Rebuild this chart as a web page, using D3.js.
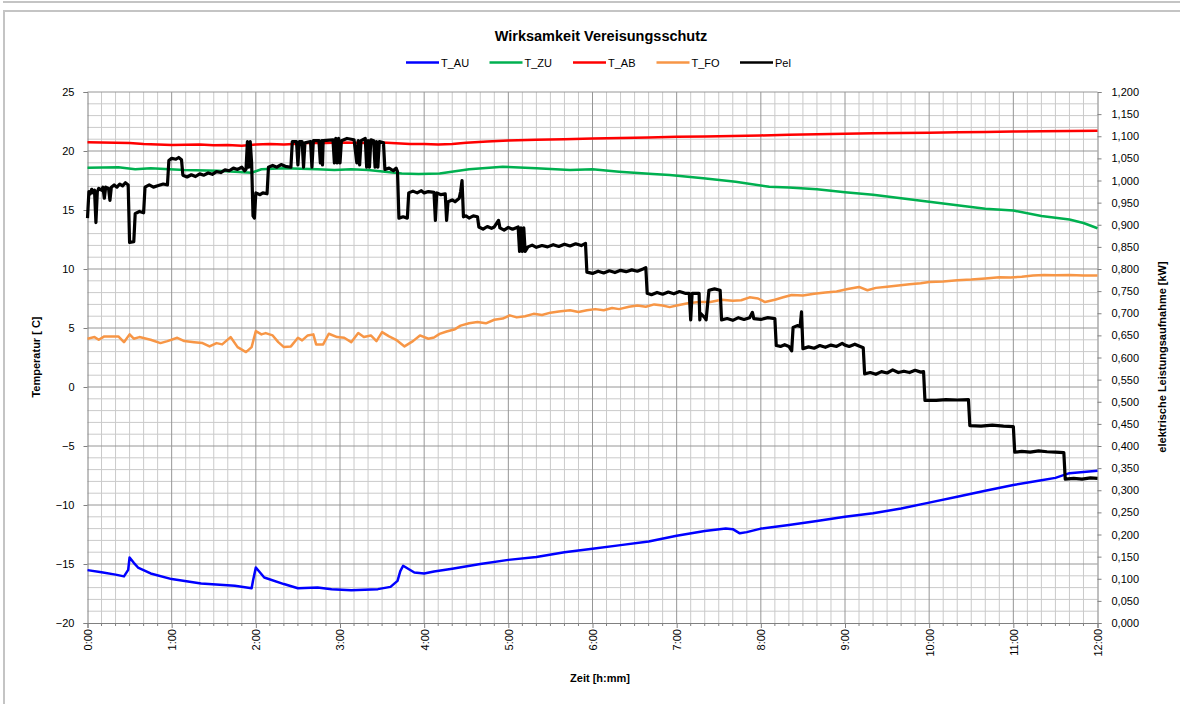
<!DOCTYPE html>
<html>
<head>
<meta charset="utf-8">
<script src="https://cdn.jsdelivr.net/npm/d3@7"></script>
<style>
  body { margin: 0; background: #fff; }
  text { font-family: Arial, "Liberation Sans", sans-serif; fill: #000; }
</style>
</head>
<body>
<svg id="chart" width="1180" height="704"></svg>
<script>
// time in minutes since 0:00
const auTime = [0,10,20,26,29,30,33,36,45,60,81,105,117,118,120,126,140,150,164,174,188,207,216,221,223,225,233,240,247,260,280,300,320,340,360,380,400,420,440,455,460,465,470,480,500,520,540,560,580,600,620,640,660,680,690,700,710,720];
const auVal = [-15.52,-15.7,-15.9,-16.05,-15.5,-14.45,-14.9,-15.3,-15.8,-16.28,-16.65,-16.85,-17.05,-16.4,-15.3,-16.14,-16.7,-17.05,-17.0,-17.13,-17.22,-17.13,-16.94,-16.43,-15.6,-15.15,-15.72,-15.8,-15.63,-15.4,-15.0,-14.65,-14.4,-14.0,-13.7,-13.4,-13.1,-12.6,-12.2,-12.0,-12.05,-12.4,-12.3,-12.0,-11.7,-11.35,-11.0,-10.7,-10.3,-9.8,-9.3,-8.8,-8.3,-7.9,-7.7,-7.3,-7.2,-7.1];

const zuTime = [0,22,34,45,69,93,117,124,140,164,176,188,200,212,224,236,251,272,296,320,344,360,379,403,415,439,462,486,500,520,540,560,580,600,620,640,660,680,700,710,720];
const zuVal = [18.59,18.62,18.45,18.53,18.39,18.33,18.16,18.45,18.53,18.45,18.39,18.45,18.39,18.25,18.1,18.05,18.1,18.45,18.67,18.53,18.39,18.45,18.25,18.05,17.97,17.69,17.4,16.97,16.9,16.75,16.5,16.3,16.0,15.7,15.4,15.1,14.95,14.5,14.2,13.9,13.45];

const abTime = [0,10,20,30,40,50,60,70,80,90,100,110,120,130,140,150,160,170,180,190,200,210,220,230,240,250,260,270,285,300,320,340,360,380,400,420,440,460,480,500,520,540,560,580,600,620,640,660,680,700,720];
const abVal = [20.75,20.72,20.7,20.68,20.6,20.55,20.5,20.52,20.55,20.48,20.5,20.45,20.55,20.6,20.55,20.62,20.7,20.68,20.72,20.7,20.68,20.72,20.65,20.6,20.6,20.55,20.6,20.7,20.8,20.9,20.95,21.0,21.05,21.1,21.15,21.2,21.22,21.28,21.32,21.38,21.42,21.46,21.5,21.52,21.55,21.58,21.6,21.65,21.68,21.7,21.72];

const foTime = [0,5,8,12,22,26,30,33,37,45,52,57,64,69,76,82,87,92,96,102,107,113,117,120,124,127,132,136,140,145,150,153,157,161,163,168,172,178,183,188,193,197,202,206,210,215,220,226,232,237,243,247,251,256,262,266,272,278,284,290,296,301,306,312,318,324,330,336,344,350,356,362,368,374,379,386,392,398,404,410,415,420,428,436,444,452,460,466,472,478,483,490,496,502,510,518,526,534,542,550,556,562,570,578,586,594,600,610,620,630,640,650,658,666,674,682,690,700,710,720];
const foVal = [4.09,4.23,4.0,4.29,4.29,3.8,4.46,4.09,4.23,4.0,3.72,3.89,4.17,3.89,3.8,3.72,3.44,3.72,3.61,4.23,3.38,2.96,3.38,4.74,4.46,4.57,4.37,3.8,3.38,3.44,4.17,3.95,4.37,4.46,3.61,3.61,4.51,4.23,4.17,3.8,4.57,4.23,4.37,3.89,4.65,4.29,4.0,3.44,3.89,4.37,4.09,4.2,4.5,4.7,4.9,5.2,5.4,5.5,5.4,5.7,5.8,6.07,5.9,6.0,6.2,6.1,6.3,6.4,6.5,6.35,6.5,6.6,6.5,6.7,6.6,6.8,6.9,6.8,7.0,6.9,6.77,6.9,7.1,7.2,7.2,7.4,7.3,7.35,7.6,7.5,7.2,7.4,7.6,7.8,7.75,7.9,8.0,8.1,8.3,8.48,8.2,8.4,8.5,8.6,8.7,8.8,8.9,8.95,9.05,9.1,9.2,9.3,9.28,9.35,9.45,9.5,9.48,9.5,9.45,9.45];

const pelTime = [0,1,2,3,4,5,6,7,8,10,11,12,13,15,16,17,19,21,23,25,27,29,30,33,34,37,40,41,44,47,50,54,57,58,60,63,65,67,68,71,74,77,80,83,86,89,92,95,98,101,104,107,110,112,113,114,115,116,117,118,119,120,123,125,128,129,132,135,138,141,145,146,149,150,151,153,154,155,159,160,161,165,166,167,167.5,168,175,176,177,178,179,180,181,185,190,192,193,194,195,198,199,200,201,202,204,205,206,207,208,211,212,215,218,220,221,222,225,228,229,232,235,238,240,243,247,248,249,252,255,256,257,260,262,265,266,267,268,270,272,275,278,279,282,285,288,290,293,294,297,300,303,307,308,309,310,311,312,314,317,320,324,328,332,336,340,344,348,352,355,356,360,364,368,372,376,380,384,388,392,396,398,399,402,406,410,414,418,422,426,429,430,431,436,436.5,437,440,441,443,447,451,452,456,460,464,468,472,474,475,480,485,490,491,494,497,500,502,503,506,508,509,510,514,518,522,526,530,534,538,540,543,547,550,553,554,558,562,566,570,574,578,582,586,590,594,596,597,605,612,620,628,629,637,645,653,660,661,666,672,678,684,690,696,697,703,709,715,720];
const pelVal = [0.915,0.975,0.97,0.98,0.972,0.978,0.905,0.975,0.982,0.978,0.985,0.96,0.985,0.982,0.955,0.985,0.99,0.985,0.992,0.988,0.995,0.99,0.86,0.862,0.925,0.93,0.927,0.985,0.99,0.985,0.988,0.992,0.99,1.045,1.05,1.048,1.052,1.047,1.012,1.008,1.013,1.009,1.015,1.012,1.017,1.014,1.02,1.018,1.024,1.022,1.028,1.025,1.03,1.022,1.025,1.088,1.03,1.088,1.04,0.92,0.915,0.972,0.968,0.972,0.97,1.03,1.034,1.03,1.036,1.032,1.03,1.088,1.088,1.035,1.088,1.088,1.03,1.085,1.088,1.03,1.09,1.09,1.04,1.09,1.035,1.09,1.092,1.04,1.095,1.04,1.095,1.04,1.09,1.095,1.092,1.04,1.09,1.035,1.09,1.095,1.03,1.09,1.03,1.092,1.09,1.03,1.088,1.03,1.088,1.085,1.025,1.028,1.022,1.028,1.02,0.915,0.918,0.915,0.972,0.976,0.972,0.977,0.972,0.975,0.973,0.91,0.972,0.968,0.97,0.91,0.952,0.956,0.952,0.96,0.975,1.0,0.918,0.92,0.915,0.92,0.918,0.895,0.89,0.896,0.892,0.895,0.91,0.893,0.888,0.894,0.89,0.895,0.84,0.893,0.84,0.893,0.84,0.85,0.854,0.849,0.853,0.85,0.855,0.851,0.856,0.852,0.857,0.853,0.858,0.793,0.79,0.795,0.791,0.796,0.792,0.797,0.794,0.798,0.795,0.8,0.803,0.745,0.742,0.747,0.743,0.748,0.744,0.749,0.745,0.745,0.685,0.745,0.745,0.685,0.7,0.69,0.685,0.752,0.755,0.752,0.685,0.688,0.684,0.69,0.686,0.69,0.702,0.688,0.686,0.69,0.688,0.627,0.625,0.629,0.625,0.615,0.668,0.672,0.67,0.703,0.62,0.624,0.621,0.627,0.623,0.628,0.625,0.632,0.628,0.625,0.63,0.626,0.622,0.563,0.566,0.562,0.568,0.565,0.572,0.566,0.569,0.566,0.571,0.567,0.568,0.503,0.503,0.505,0.504,0.505,0.446,0.445,0.447,0.445,0.444,0.386,0.388,0.386,0.389,0.387,0.386,0.385,0.325,0.327,0.325,0.328,0.327];

const legendNames = ['T_AU', 'T_ZU', 'T_AB', 'T_FO', 'Pel'];
const legendColors = ['#0000ff', '#00b050', '#ff0000', '#f79646', '#000000'];
const hourLabels = d3.range(0, 13).map(h => h + ':00');

const svg = d3.select('#chart');

// chart frame
svg.append('line').attr('x1', 3).attr('x2', 1180).attr('y1', 2).attr('y2', 2)
  .attr('stroke', '#c4c4c4').attr('stroke-width', 2);
svg.append('rect').attr('x', 4).attr('y', 11).attr('width', 1190).attr('height', 700)
  .attr('fill', 'none').attr('stroke', '#c4c4c4').attr('stroke-width', 2);

const x = d3.scaleLinear().domain([0, 720]).range([87.5, 1097.5]);
const yT = d3.scaleLinear().domain([-20, 25]).range([623, 92]);
const yP = d3.scaleLinear().domain([0, 1.2]).range([623, 92]);

// grid
const grid = svg.append('g');
grid.selectAll('.vmin').data(d3.range(10, 720, 10).filter(m => m % 60)).join('line')
  .attr('x1', d => x(d)).attr('x2', d => x(d)).attr('y1', 92).attr('y2', 623)
  .attr('stroke', '#cacaca').attr('stroke-width', 1);
grid.selectAll('.hmin').data(d3.range(-19, 25, 1).filter(v => v % 5)).join('line')
  .attr('x1', 87.5).attr('x2', 1097.5).attr('y1', d => yT(d)).attr('y2', d => yT(d))
  .attr('stroke', '#cacaca').attr('stroke-width', 1);
grid.selectAll('.vmaj').data(d3.range(60, 720, 60)).join('line')
  .attr('x1', d => x(d)).attr('x2', d => x(d)).attr('y1', 92).attr('y2', 623)
  .attr('stroke', '#969696').attr('stroke-width', 1);
grid.selectAll('.hmaj').data(d3.range(-15, 26, 5)).join('line')
  .attr('x1', 87.5).attr('x2', 1097.5).attr('y1', d => yT(d)).attr('y2', d => yT(d))
  .attr('stroke', '#969696').attr('stroke-width', 1);

// axes
const leftAxis = svg.append('g').attr('transform', 'translate(87.5,0)')
  .call(d3.axisLeft(yT).tickValues(d3.range(-20, 26, 5)).tickSize(4).tickPadding(9));
const rightAxis = svg.append('g').attr('transform', 'translate(1097.5,0)')
  .call(d3.axisRight(yP).tickValues(d3.range(0, 24.5, 1).map(i => i * 0.05)).tickSize(4).tickPadding(10)
    .tickFormat(d => d3.format('.3f')(d).replace('.', ',')));
const bottomAxis = svg.append('g').attr('transform', 'translate(0,623)')
  .call(d3.axisBottom(x).tickValues(d3.range(0, 721, 60)).tickSize(5)
    .tickFormat((d, i) => hourLabels[i]));
bottomAxis.selectAll('text')
  .attr('transform', 'rotate(-90)').attr('text-anchor', 'end')
  .attr('x', -6).attr('y', 0).attr('dy', '0.35em');
bottomAxis.selectAll('.minor').data(d3.range(10, 720, 10).filter(m => m % 60)).join('line')
  .attr('x1', d => x(d)).attr('x2', d => x(d)).attr('y1', 0).attr('y2', 3)
  .attr('stroke', '#808080');

[leftAxis, rightAxis, bottomAxis].forEach(a => {
  a.select('.domain').attr('stroke', '#808080');
  a.selectAll('.tick line').attr('stroke', '#808080');
  a.selectAll('text').attr('font-size', 11).attr('font-family', 'Arial, "Liberation Sans", sans-serif');
});

// series
const line = d3.line().x(d => x(d[0]));
function drawSeries(times, vals, scale, color, width) {
  svg.append('path')
    .datum(times.map((t, i) => [t, vals[i]]))
    .attr('fill', 'none').attr('stroke', color).attr('stroke-width', width)
    .attr('stroke-linejoin', 'round')
    .attr('d', line.y(d => scale(d[1])));
}
drawSeries(auTime, auVal, yT, legendColors[0], 2.5);
drawSeries(zuTime, zuVal, yT, legendColors[1], 2.5);
drawSeries(abTime, abVal, yT, legendColors[2], 2.5);
drawSeries(foTime, foVal, yT, legendColors[3], 2.5);
drawSeries(pelTime, pelVal, yP, legendColors[4], 3.2);

// titles
svg.append('text').attr('x', 601).attr('y', 41).attr('text-anchor', 'middle')
  .attr('font-size', 14.5).attr('font-weight', 'bold').text('Wirksamkeit Vereisungsschutz');
svg.append('text').attr('transform', 'translate(40,357) rotate(-90)').attr('text-anchor', 'middle')
  .attr('font-size', 11).attr('font-weight', 'bold').text('Temperatur  [ C]');
svg.append('text').attr('transform', 'translate(1166,357) rotate(-90)').attr('text-anchor', 'middle')
  .attr('font-size', 11).attr('font-weight', 'bold').text('elektrische Leistungsaufnahme  [kW]');
svg.append('text').attr('x', 600).attr('y', 682).attr('text-anchor', 'middle')
  .attr('font-size', 11).attr('font-weight', 'bold').text('Zeit [h:mm]');

// legend
const legend = svg.append('g');
legendNames.forEach((name, i) => {
  const lx = 406 + i * 83.5;
  legend.append('line').attr('x1', lx).attr('x2', lx + 33).attr('y1', 62.5).attr('y2', 62.5)
    .attr('stroke', legendColors[i]).attr('stroke-width', 2.5);
  legend.append('text').attr('x', lx + 35).attr('y', 66.5).attr('font-size', 11).text(name);
});
</script>
</body>
</html>
